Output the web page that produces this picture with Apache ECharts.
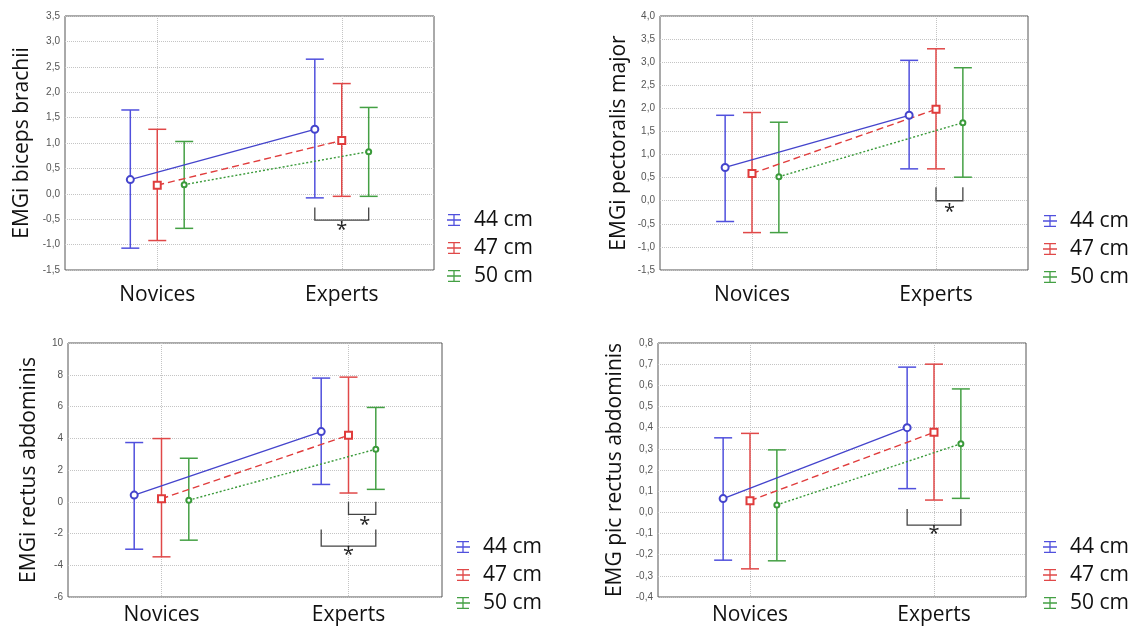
<!DOCTYPE html>
<html><head><meta charset="utf-8">
<script src="https://cdn.jsdelivr.net/npm/echarts@6/dist/echarts.min.js"></script>
<style>html,body{margin:0;padding:0;background:#fff}#c{width:1132px;height:628px}</style>
</head><body><div id="c"></div>
<script>
// ---------- DATA ----------
const categories = ['Novices', 'Experts'];
const seriesNames = ['44 cm', '47 cm', '50 cm'];

// Panel A: EMGi biceps brachii  (rows: 44, 47, 50 cm; cols: Novices, Experts)
const bicepsMean = [[0.28, 1.27], [0.17, 1.05], [0.18, 0.83]];
const bicepsLow  = [[-1.07, -0.08], [-0.92, -0.05], [-0.68, -0.05]];
const bicepsHigh = [[1.65, 2.65], [1.27, 2.17], [1.03, 1.70]];
// brackets: [category, fromSeries, toSeries, top, bottom, starSeriesPos, starY]
const bicepsBrackets = [[1, 0, 2, -0.27, -0.52, 1, -0.72]];
const bicepsTicks = [-1.5, 3.5, 0.5];

// Panel B: EMGi pectoralis major
const pectMean = [[0.72, 1.85], [0.59, 1.98], [0.52, 1.69]];
const pectLow  = [[-0.45, 0.69], [-0.69, 0.69], [-0.69, 0.51]];
const pectHigh = [[1.85, 3.04], [1.91, 3.29], [1.70, 2.88]];
const pectBrackets = [[1, 1, 2, 0.29, 0.0, 1.5, -0.24]];
const pectTicks = [-1.5, 4.0, 0.5];

// Panel C: EMGi rectus abdominis
const rectMean = [[0.42, 4.42], [0.19, 4.19], [0.10, 3.31]];
const rectLow  = [[-2.99, 1.09], [-3.47, 0.55], [-2.42, 0.78]];
const rectHigh = [[3.73, 7.79], [3.98, 7.85], [2.74, 5.94]];
const rectBrackets = [[1, 1, 2, 0.0, -0.8, 1.6, -1.5], [1, 0, 2, -1.75, -2.8, 1, -3.4]];
const rectTicks = [-6, 10, 2];

// Panel D: EMG pic rectus abdominis
const picMean = [[0.065, 0.400], [0.055, 0.378], [0.035, 0.324]];
const picLow  = [[-0.226, 0.112], [-0.267, 0.058], [-0.229, 0.066]];
const picHigh = [[0.352, 0.686], [0.373, 0.700], [0.295, 0.583]];
const picBrackets = [[1, 0, 2, 0.016, -0.060, 1, -0.105]];
const picTicks = [-0.4, 0.8, 0.1];

const yNames = ['EMGi biceps brachii', 'EMGi pectoralis major', 'EMGi rectus abdominis', 'EMG pic rectus abdominis'];

// ---------- STYLE ----------
const lineColors = ['#4444cc', '#e03c3c', '#3a9a3a'];
const barColors  = ['#5050dd', '#e04848', '#44a044'];
const lineTypes  = ['solid', [7, 4], [2, 2]];
const symbols    = ['emptyCircle', 'emptyRect', 'emptyCircle'];
const symbolSizes = [7, 7, 5];
const DODGE = 0.146;   // horizontal dodge between sizes, in category units
const FONT = '"Open Sans", "Noto Sans", sans-serif';

const panels = [
  {mean: bicepsMean, low: bicepsLow, high: bicepsHigh, br: bicepsBrackets, ticks: bicepsTicks, dec: 1,
   grid: {left: 65, top: 16, width: 369, height: 254}, nameGap: 32, labelMargin: 15,
   legend: {left: 442, top: 204}},
  {mean: pectMean, low: pectLow, high: pectHigh, br: pectBrackets, ticks: pectTicks, dec: 1,
   grid: {left: 660, top: 16, width: 368, height: 254}, nameGap: 30, labelMargin: 15,
   legend: {left: 1038, top: 205}},
  {mean: rectMean, low: rectLow, high: rectHigh, br: rectBrackets, ticks: rectTicks, dec: 0,
   grid: {left: 68, top: 343, width: 374, height: 254}, nameGap: 28, labelMargin: 8,
   legend: {left: 451, top: 531}},
  {mean: picMean, low: picLow, high: picHigh, br: picBrackets, ticks: picTicks, dec: 1,
   grid: {left: 658, top: 343, width: 368, height: 254}, nameGap: 32, labelMargin: 8,
   legend: {left: 1038, top: 531}}
];

const legendIcon = 'path://M1 0H13V1.3H1Z M1 10.7H13V12H1Z M6.35 0H7.65V12H6.35Z M0 5.35H14V6.65H0Z';

const option = {
  animation: false,
  backgroundColor: '#fff',
  grid: [], xAxis: [], yAxis: [], series: [], legend: []
};

panels.forEach((p, gi) => {
  option.grid.push(Object.assign({show: true, borderColor: '#555', borderWidth: 1, containLabel: false}, p.grid));
  // visible category axis (labels + vertical dotted grid lines)
  option.xAxis.push({
    type: 'category', gridIndex: gi, data: categories, boundaryGap: true,
    axisLine: {show: false}, axisTick: {show: false},
    axisLabel: {fontFamily: FONT, fontSize: 21, color: '#111', margin: p.labelMargin},
    splitLine: {show: true, alignWithLabel: true, lineStyle: {color: '#c4c4c4', type: 'dotted', width: 1}}
  });
  // hidden value axis used to place dodged points
  option.xAxis.push({type: 'value', gridIndex: gi, min: -0.5, max: 1.5, show: false});
  option.yAxis.push({
    type: 'value', gridIndex: gi, min: p.ticks[0], max: p.ticks[1], interval: p.ticks[2],
    name: yNames[gi], nameLocation: 'middle', nameGap: p.nameGap,
    nameTextStyle: {fontFamily: FONT, fontSize: 21, color: '#111'},
    axisLine: {show: false}, axisTick: {show: false},
    axisLabel: {fontFamily: '"Liberation Sans", Arial, sans-serif', fontSize: 10, color: '#555', margin: 5,
      formatter: v => v.toFixed(p.dec).replace('.', ',')},
    splitLine: {show: true, lineStyle: {color: '#c4c4c4', type: 'dotted', width: 1}}
  });
  const xIdx = gi * 2 + 1;
  seriesNames.forEach((nm, si) => {
    const off = (si - 1) * DODGE;
    const errData = categories.map((c, ci) => [ci + off, p.low[si][ci], p.high[si][ci]]);
    option.series.push({
      type: 'custom', name: nm, xAxisIndex: xIdx, yAxisIndex: gi, z: 2,
      encode: {x: 0, y: [1, 2]},
      itemStyle: {color: barColors[si]},
      data: errData,
      renderItem: (params, api) => {
        const x = api.value(0);
        const lo = api.coord([x, api.value(1)]);
        const hi = api.coord([x, api.value(2)]);
        const hw = 9;
        const st = {stroke: barColors[si], lineWidth: 1.5};
        return {type: 'group', children: [
          {type: 'line', shape: {x1: lo[0], y1: lo[1], x2: hi[0], y2: hi[1]}, style: st},
          {type: 'line', shape: {x1: hi[0] - hw, y1: hi[1], x2: hi[0] + hw, y2: hi[1]}, style: st},
          {type: 'line', shape: {x1: lo[0] - hw, y1: lo[1], x2: lo[0] + hw, y2: lo[1]}, style: st}
        ]};
      }
    });
    option.series.push({
      type: 'line', name: nm + ' (mean)', xAxisIndex: xIdx, yAxisIndex: gi, z: 3,
      data: categories.map((c, ci) => [ci + off, p.mean[si][ci]]),
      symbol: symbols[si], symbolSize: symbolSizes[si],
      itemStyle: {color: lineColors[si], borderWidth: 1.3},
      lineStyle: {color: lineColors[si], type: lineTypes[si], width: si === 0 ? 1.3 : 1.4}
    });
  });
  // significance brackets
  option.series.push({
    type: 'custom', name: 'sig' + gi, xAxisIndex: xIdx, yAxisIndex: gi, z: 4, silent: true,
    encode: {x: [0, 1, 4], y: [2, 3, 5]},
    data: p.br.map(b => [b[0] + (b[1] - 1) * DODGE, b[0] + (b[2] - 1) * DODGE, b[3], b[4], b[0] + (b[5] - 1) * DODGE, b[6]]),
    renderItem: (params, api) => {
      const a = api.coord([api.value(0), api.value(2)]);
      const b = api.coord([api.value(0), api.value(3)]);
      const c = api.coord([api.value(1), api.value(3)]);
      const d = api.coord([api.value(1), api.value(2)]);
      const s = api.coord([api.value(4), api.value(5)]);
      return {type: 'group', children: [
        {type: 'polyline', shape: {points: [a, b, c, d]}, style: {stroke: '#444', lineWidth: 1.3, fill: null}},
        {type: 'text', x: s[0], y: s[1], style: {text: '*', fontSize: 20, fontFamily: FONT, fill: '#222',
          align: 'center', verticalAlign: 'middle'}}
      ]};
    }
  });
  option.legend.push(Object.assign({
    orient: 'vertical', icon: legendIcon, itemWidth: 14, itemHeight: 12, itemGap: 6,
    selectedMode: false,
    textStyle: {fontFamily: FONT, fontSize: 21, color: '#111', lineHeight: 22, padding: [0, 0, 0, 8]},
    data: seriesNames.map((nm, si) => ({name: nm, itemStyle: {color: barColors[si], borderWidth: 0}}))
  }, p.legend));
});

const chart = echarts.init(document.getElementById('c'), null, {renderer: 'canvas'});
chart.setOption(option);
</script>
</body></html>
